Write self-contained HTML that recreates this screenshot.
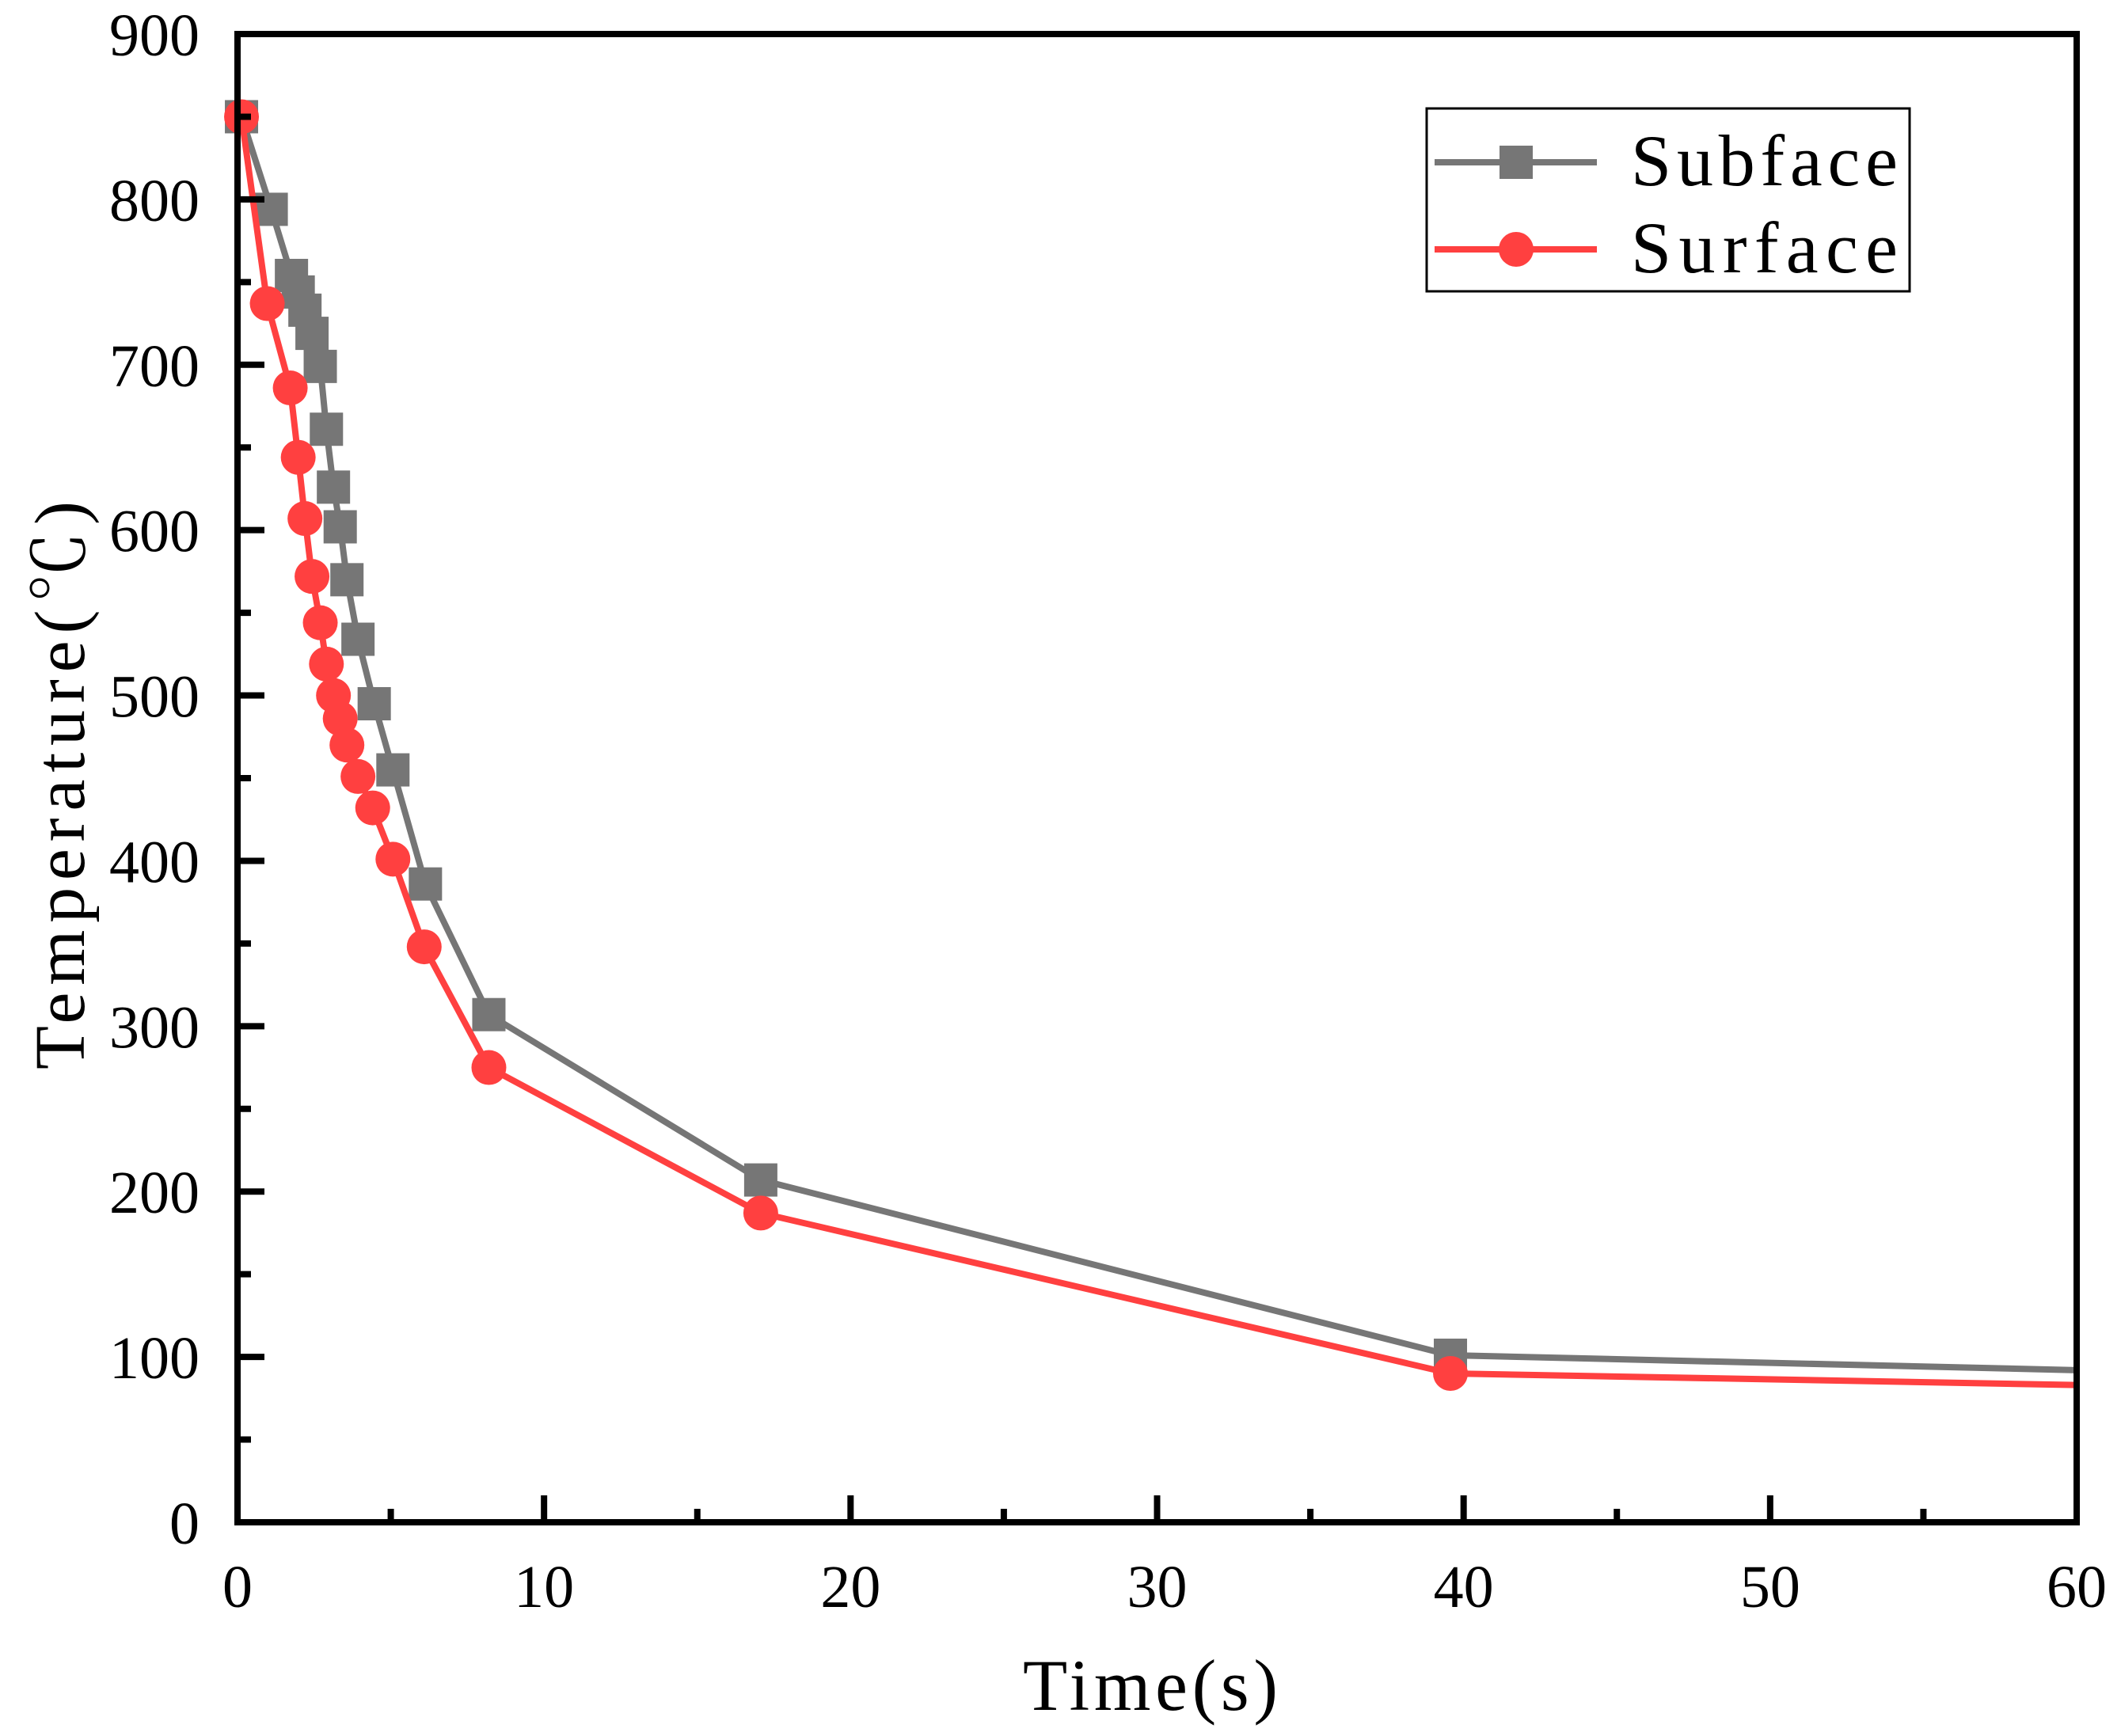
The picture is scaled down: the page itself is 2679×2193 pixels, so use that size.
<!DOCTYPE html>
<html><head><meta charset="utf-8">
<style>html,body{margin:0;padding:0;background:#fff}svg{display:block}</style>
</head><body>
<svg id="chart" width="2679" height="2193" viewBox="0 0 2679 2193" xmlns="http://www.w3.org/2000/svg" font-family="'Liberation Serif', serif">
<rect x="0" y="0" width="2679" height="2193" fill="#fff"/>
<g id="plot"></g>
<g id="axes"></g>
<text x="1453" y="2160" font-size="92" text-anchor="middle" textLength="322">Time(s)</text>
<text transform="translate(106,992) rotate(-90)" font-size="90" text-anchor="middle" textLength="718" font-family="'Liberation Serif','Noto Serif CJK SC',serif">Temperature(℃)</text>
<g>
<rect x="1802" y="137" width="610" height="231" fill="#fff" stroke="#000" stroke-width="3"/>
<line x1="1812" y1="205" x2="2017" y2="205" stroke="#767676" stroke-width="8"/>
<rect x="1894" y="184" width="42" height="42" fill="#767676"/>
<text x="2060" y="234" font-size="92" textLength="337">Subface</text>
<line x1="1812" y1="315" x2="2017" y2="315" stroke="#ff4040" stroke-width="8"/>
<circle cx="1915" cy="315" r="22" fill="#ff4040"/>
<text x="2060" y="344" font-size="92" textLength="337">Surface</text>
</g>
</svg>
<script>
const subTime = [0.13,1.1,1.76,1.98,2.2,2.43,2.7,2.9,3.13,3.35,3.57,3.93,4.46,5.07,6.13,8.2,17.07,39.57,60];
const subTemp = [850,794,754,744,733,719,699,661,626,602,570,534,495,455,386,307,207,101,92];
const surTime = [0.13,0.97,1.72,1.98,2.2,2.43,2.7,2.9,3.13,3.35,3.57,3.93,4.41,5.07,6.09,8.2,17.07,39.57,60];
const surTemp = [850,737,686,644,607,572,544,519,500,486,470,451,432,401,348,275,187,90,83];
const xTicks = [0,10,20,30,40,50,60];
const yTicks = [0,100,200,300,400,500,600,700,800,900];

const X0=300,X1=2623,Y0=1923,Y1=43;
const xs = v => X0 + (v-0)/(60-0)*(X1-X0);
const ys = v => Y0 - (v-0)/(900-0)*(Y0-Y1);
const NS='http://www.w3.org/2000/svg';
function mk(tag, attrs, parent){const e=document.createElementNS(NS,tag);for(const k in attrs)e.setAttribute(k,attrs[k]);parent.appendChild(e);return e;}
const plot=document.getElementById('plot'), axes=document.getElementById('axes');

function series(t, v, color, kind, name){
  const pts=t.map((x,i)=>xs(x)+','+ys(v[i])).join(' ');
  const pl=mk('polyline',{points:pts,fill:'none',stroke:color,'stroke-width':8,'stroke-linejoin':'round'},plot);
  
  
  for(let i=0;i<t.length-1;i++){
    let m;
    if(kind==='square') m=mk('rect',{x:xs(t[i])-21,y:ys(v[i])-21,width:42,height:42,fill:color},plot);
    else m=mk('circle',{cx:xs(t[i]),cy:ys(v[i]),r:22,fill:color},plot);
    
    
  }
}
series(subTime, subTemp, '#767676', 'square', 'subface');
series(surTime, surTemp, '#ff4040', 'circle', 'surface');

const fr=mk('rect',{x:X0,y:Y1,width:X1-X0,height:Y0-Y1,fill:'none',stroke:'#000','stroke-width':8},axes);



xTicks.forEach((v,i)=>{
  const t=mk('line',{x1:xs(v),y1:Y0,x2:xs(v),y2:Y0-34,stroke:'#000','stroke-width':8},axes);
  
  
  if(i<xTicks.length-1){
    const m=mk('line',{x1:xs(v+5),y1:Y0,x2:xs(v+5),y2:Y0-17,stroke:'#000','stroke-width':8},axes);
    
    
  }
  const l=mk('text',{x:xs(v),y:2030,'font-size':76,'text-anchor':'middle'},axes);
  l.textContent=String(v);
  
  
});
yTicks.forEach((v,i)=>{
  const t=mk('line',{x1:X0,y1:ys(v),x2:X0+34,y2:ys(v),stroke:'#000','stroke-width':8},axes);
  
  
  if(i<yTicks.length-1){
    const m=mk('line',{x1:X0,y1:ys(v+50),x2:X0+17,y2:ys(v+50),stroke:'#000','stroke-width':8},axes);
    
    
  }
  const l=mk('text',{x:252,y:ys(v)+27,'font-size':76,'text-anchor':'end'},axes);
  l.textContent=String(v);
  
  
});
</script>
</body></html>
